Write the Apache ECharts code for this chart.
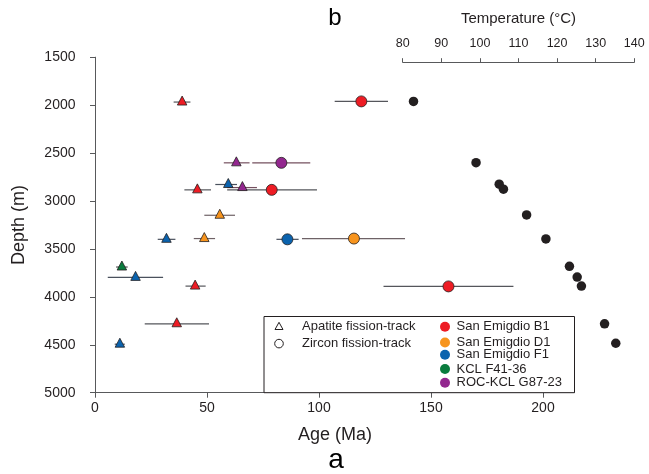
<!DOCTYPE html>
<html><head><meta charset="utf-8">
<script src="https://cdn.jsdelivr.net/npm/echarts@6/dist/echarts.min.js"></script>
<style>html,body{margin:0;padding:0;background:#fff}#c{width:649px;height:474px}</style>
</head><body><div id="c"></div>
<script>
// ---- data ----
const sampleNames = ['San Emigdio B1', 'San Emigdio D1', 'San Emigdio F1', 'KCL F41-36', 'ROC-KCL G87-23'];
const sampleColors = ['#ed1c24', '#f7941d', '#0b63ae', '#0a7c3e', '#93278f'];
const barColors = ['#55565b', '#6e6266', '#4a515d', '#535456', '#75505f'];

// Apatite fission-track (triangles)
const aftSample = [0, 4, 2, 4, 0, 1, 2, 1, 3, 2, 0, 0, 2];
const aftDepth  = [1968, 2602, 2828, 2860, 2884, 3149, 3400, 3392, 3689, 3797, 3888, 4281, 4494];
const aftAge    = [38.9, 63.1, 59.5, 65.8, 45.7, 55.7, 31.9, 48.8, 12.0, 18.1, 44.7, 36.5, 11.1];
const aftLow    = [35.1, 57.5, 53.7, 59.0, 39.9, 48.8, 28.0, 44.1, 9.4, 5.7, 40.4, 22.2, 8.8];
const aftHigh   = [42.6, 69.0, 63.4, 72.3, 51.8, 62.5, 35.9, 53.6, 14.6, 30.4, 49.4, 50.9, 13.3];

// Zircon fission-track (circles)
const zftSample = [0, 4, 0, 2, 1, 0];
const zftDepth  = [1961, 2602, 2884, 3400, 3392, 3891];
const zftAge    = [118.9, 83.2, 78.9, 85.9, 115.6, 157.8];
const zftLow    = [107.0, 70.2, 59.0, 81.0, 92.4, 128.8];
const zftHigh   = [130.8, 96.1, 99.1, 90.9, 138.4, 186.8];

// Temperature (panel b)
const tempDepth = [1961, 2600, 2825, 2877, 3146, 3396, 3682, 3794, 3888, 4281, 4484];
const tempValue = [82.8, 99.0, 105.0, 106.1, 112.1, 117.1, 123.2, 125.2, 126.3, 132.3, 135.2];

// Axis ticks
const depthTicks = [1500, 2000, 2500, 3000, 3500, 4000, 4500, 5000];
const ageTicks = [0, 50, 100, 150, 200];
const ageAxisMax = 214;
const tempTicks = [80, 90, 100, 110, 120, 130, 140];

// ---- build ----
const TXT = '#231f20';
const AX = '#58595b';
const FONT = 'Liberation Sans, Arial, Helvetica, sans-serif';

const barData = [];
aftAge.forEach((a, i) => barData.push([aftLow[i], aftHigh[i], aftDepth[i], aftSample[i]]));
zftAge.forEach((a, i) => barData.push([zftLow[i], zftHigh[i], zftDepth[i], zftSample[i]]));
const aftData = aftAge.map((a, i) => [a, aftDepth[i], aftSample[i]]);
const zftData = zftAge.map((a, i) => [a, zftDepth[i], zftSample[i]]);
const tempData = tempValue.map((t, i) => [t, tempDepth[i]]);

const gTop = 57.2, gH = 335.5;
const chart = echarts.init(document.getElementById('c'), null, {renderer: 'canvas'});

const legendRows = [326.7, 342.5, 354.7, 369, 382.7];
const legendGraphics = [
  {type: 'rect', shape: {x: 264, y: 316.5, width: 310.5, height: 76.2}, style: {fill: '#fff', stroke: TXT, lineWidth: 1}, z: 50},
  {type: 'polygon', shape: {points: [[279, 322.3], [283, 329.5], [275, 329.5]]}, style: {fill: 'none', stroke: TXT, lineWidth: 1}, z: 51},
  {type: 'circle', shape: {cx: 279, cy: 343.6, r: 4.3}, style: {fill: 'none', stroke: TXT, lineWidth: 1}, z: 51},
  {type: 'text', style: {text: 'Apatite fission-track', x: 302, y: 326.5, font: '13px ' + FONT, fill: TXT, verticalAlign: 'middle'}, z: 51},
  {type: 'text', style: {text: 'Zircon fission-track', x: 302, y: 343.3, font: '13px ' + FONT, fill: TXT, verticalAlign: 'middle'}, z: 51}
];
sampleNames.forEach((n, i) => {
  legendGraphics.push({type: 'circle', shape: {cx: 445, cy: legendRows[i], r: 5}, style: {fill: sampleColors[i]}, z: 51});
  legendGraphics.push({type: 'text', style: {text: n, x: 456.5, y: legendRows[i], font: '13px ' + FONT, fill: TXT, verticalAlign: 'middle'}, z: 51});
});

const plain = v => String(v);

const option = {
  backgroundColor: '#fff',
  animation: false,
  grid: [
    {left: 95, top: gTop, width: 214 * 2.24, height: gH},
    {left: 402.7, top: gTop, width: 231.6, height: gH}
  ],
  xAxis: [
    {gridIndex: 0, type: 'value', min: ageTicks[0], max: ageAxisMax, interval: ageTicks[1] - ageTicks[0],
     axisLine: {lineStyle: {color: AX, width: 1}}, axisTick: {length: 5, lineStyle: {color: AX}},
     axisLabel: {fontSize: 14, color: TXT, margin: 8, fontFamily: FONT, formatter: plain, showMaxLabel: false}, splitLine: {show: false}},
    {gridIndex: 1, type: 'value', position: 'top', offset: -5, min: tempTicks[0], max: tempTicks[tempTicks.length - 1], interval: tempTicks[1] - tempTicks[0],
     axisLine: {lineStyle: {color: AX, width: 1}}, axisTick: {length: 4, lineStyle: {color: AX}},
     axisLabel: {fontSize: 12.5, color: TXT, margin: 12, fontFamily: FONT, formatter: plain}, splitLine: {show: false}}
  ],
  yAxis: [
    {gridIndex: 0, type: 'value', inverse: true, min: depthTicks[0], max: depthTicks[depthTicks.length - 1], interval: depthTicks[1] - depthTicks[0],
     offset: 9.5,
     axisLine: {show: true, lineStyle: {color: AX, width: 1}}, axisTick: {show: true, length: 5, lineStyle: {color: AX}},
     axisLabel: {fontSize: 14, color: TXT, margin: 10, fontFamily: FONT, formatter: plain}, splitLine: {show: false}},
    {gridIndex: 1, type: 'value', inverse: true, min: depthTicks[0], max: depthTicks[depthTicks.length - 1], show: false}
  ],
  graphic: [
    {type: 'text', x: 335, y: 435, style: {text: 'Age (Ma)', font: '18px ' + FONT, fill: TXT, align: 'center', verticalAlign: 'middle'}},
    {type: 'text', x: 336, y: 460, style: {text: 'a', font: '28px ' + FONT, fill: '#000', align: 'center', verticalAlign: 'middle'}},
    {type: 'text', x: 335, y: 18, style: {text: 'b', font: '24px ' + FONT, fill: '#000', align: 'center', verticalAlign: 'middle'}},
    {type: 'text', x: 518.5, y: 18.5, style: {text: 'Temperature (°C)', font: '15px ' + FONT, fill: TXT, align: 'center', verticalAlign: 'middle'}},
    {type: 'text', x: 19, y: 225, rotation: Math.PI / 2, style: {text: 'Depth (m)', font: '18px ' + FONT, fill: TXT, align: 'center', verticalAlign: 'middle'}},
    ...legendGraphics
  ],
  series: [
    {type: 'custom', xAxisIndex: 0, yAxisIndex: 0, data: barData, encode: {x: [0, 1], y: 2}, z: 1,
     renderItem: (params, api) => {
       const p1 = api.coord([api.value(0), api.value(2)]);
       const p2 = api.coord([api.value(1), api.value(2)]);
       return {type: 'line', shape: {x1: p1[0], y1: p1[1], x2: p2[0], y2: p2[1]},
               style: {stroke: barColors[api.value(3)], lineWidth: 1.2}};
     }},
    {type: 'scatter', xAxisIndex: 0, yAxisIndex: 0, data: aftData, symbol: 'triangle', symbolSize: [9.5, 9], symbolOffset: [0, -1.5], z: 3,
     itemStyle: {color: p => sampleColors[p.data[2]], borderColor: TXT, borderWidth: 0.8, opacity: 1}},
    {type: 'scatter', xAxisIndex: 0, yAxisIndex: 0, data: zftData, symbol: 'circle', symbolSize: 11, z: 3,
     itemStyle: {color: p => sampleColors[p.data[2]], borderColor: TXT, borderWidth: 0.8, opacity: 1}},
    {type: 'scatter', xAxisIndex: 1, yAxisIndex: 1, data: tempData, symbol: 'circle', symbolSize: 9.5, z: 3,
     itemStyle: {color: '#231f20', opacity: 1}}
  ]
};
chart.setOption(option);
</script></body></html>
